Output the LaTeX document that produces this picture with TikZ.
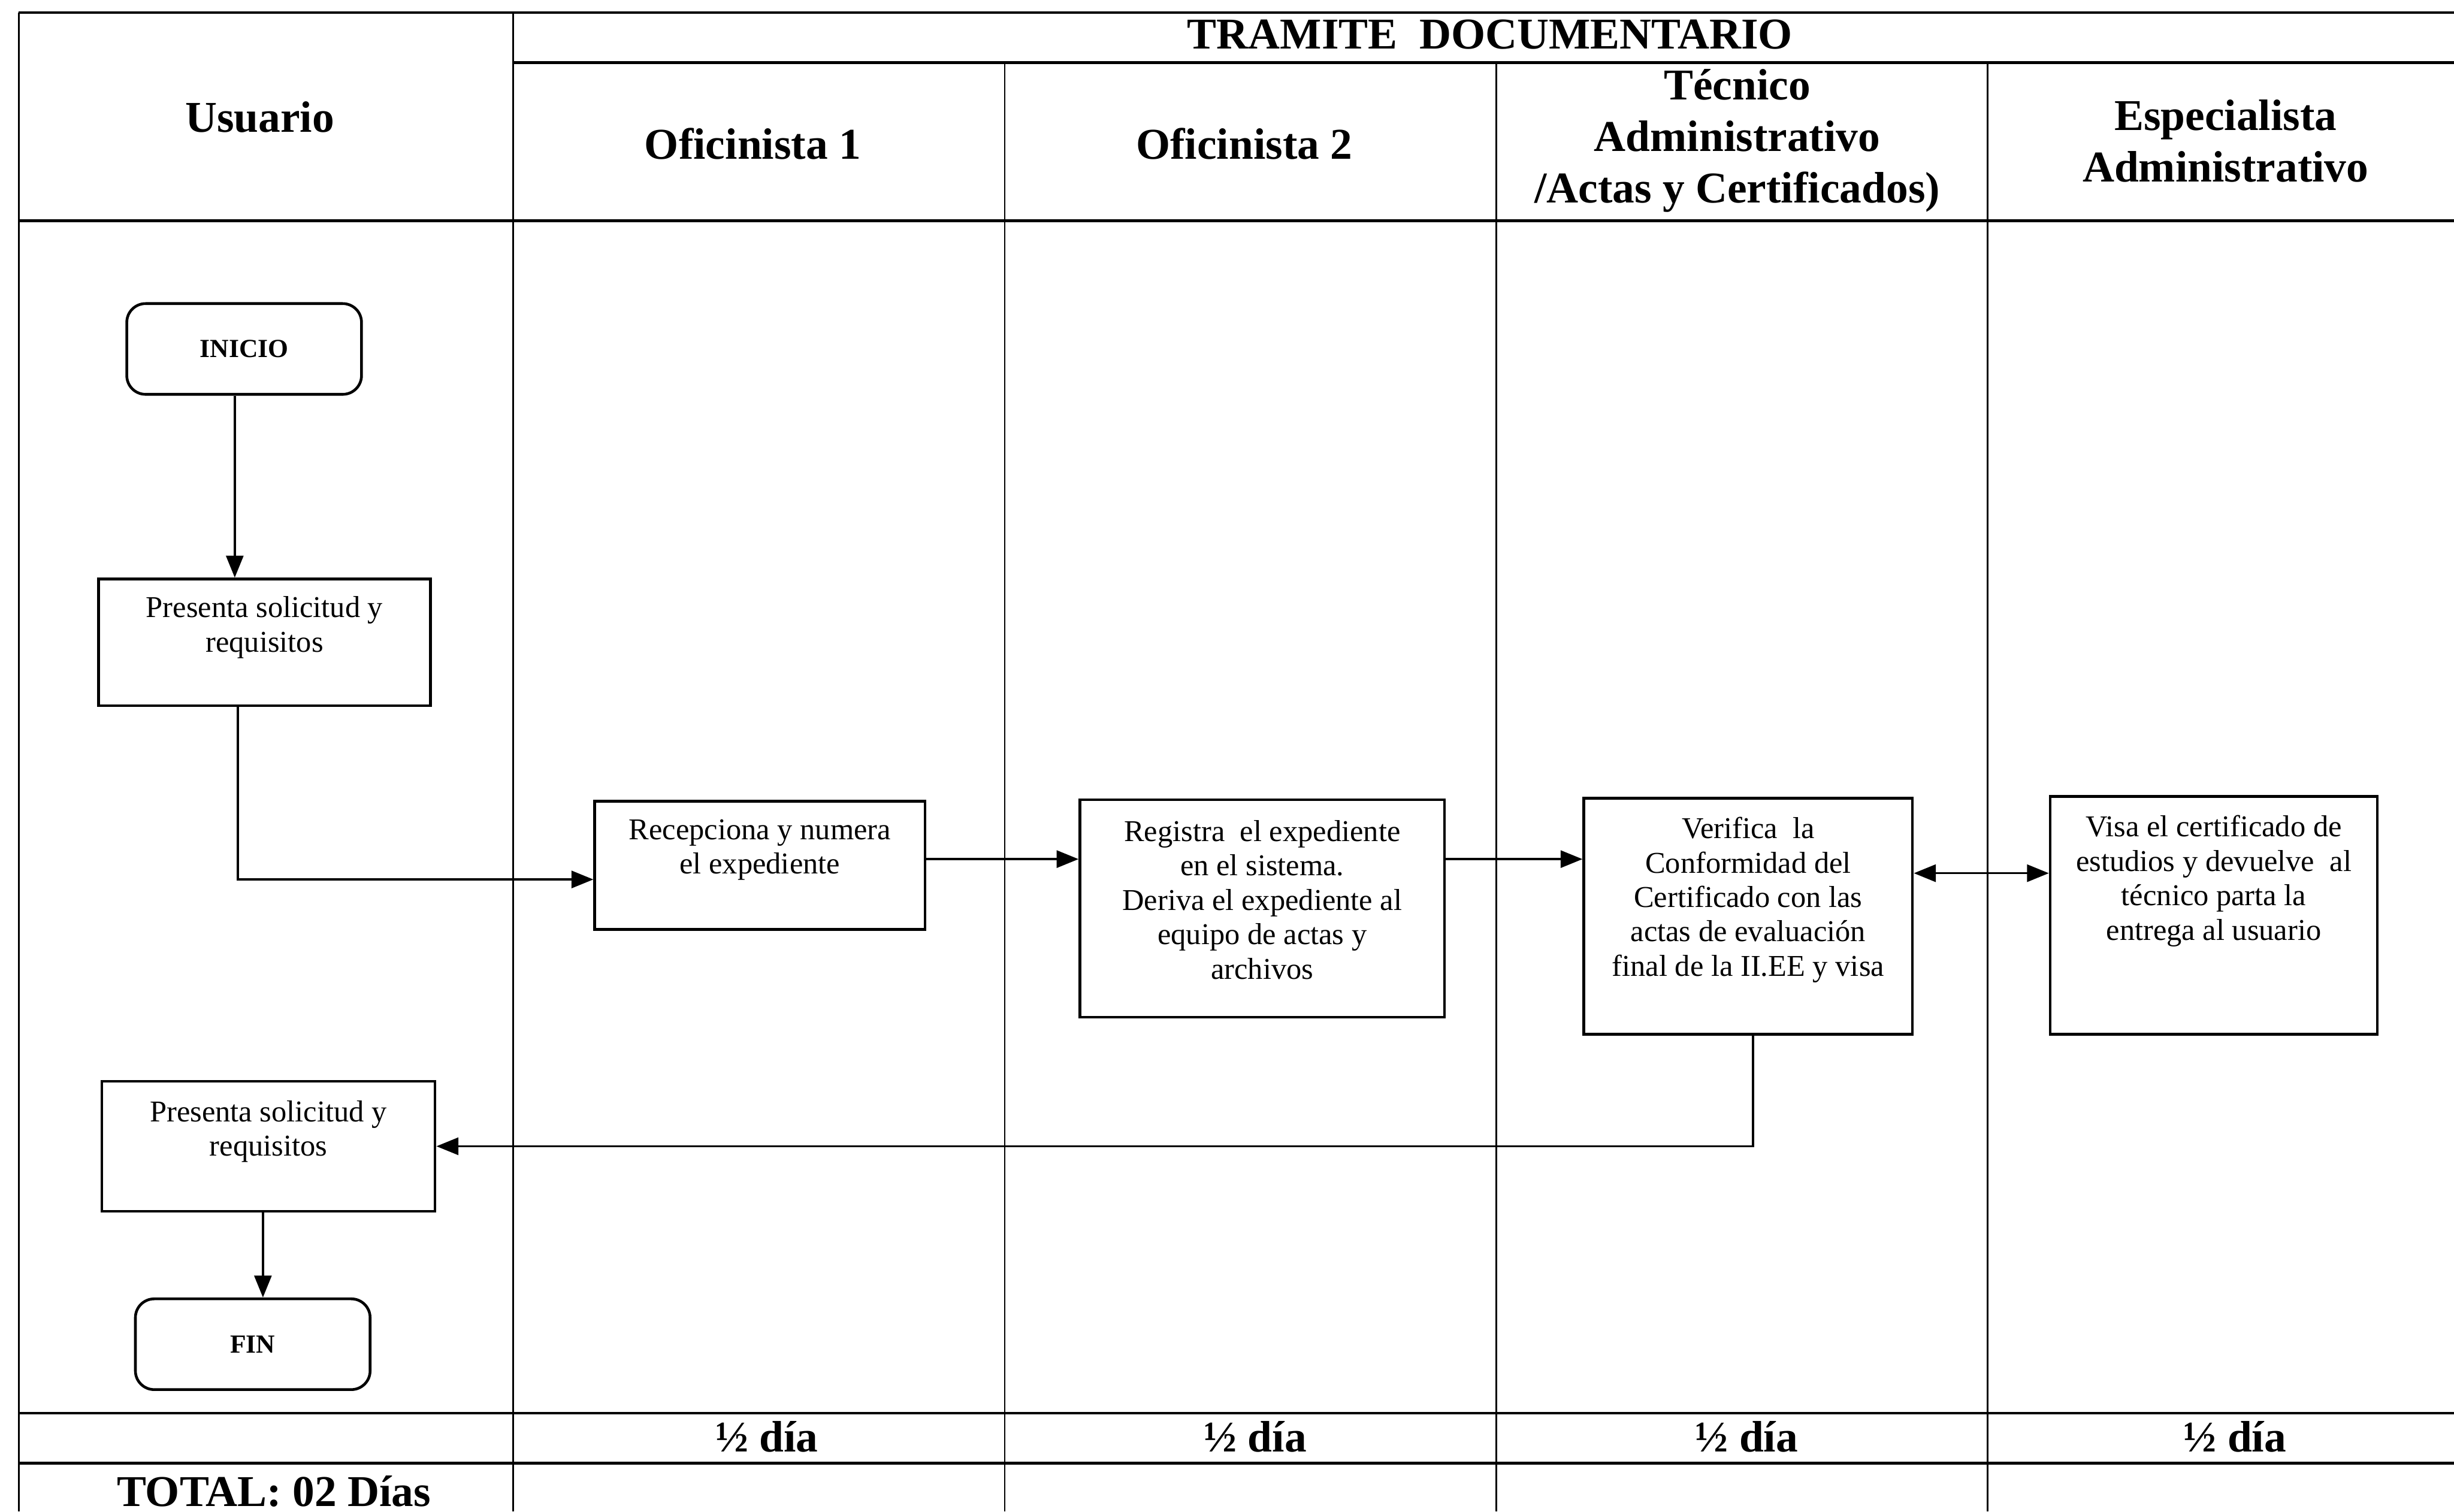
\documentclass[tikz,border=0pt]{standalone}
\usepackage{fontspec}
\setmainfont{Liberation Serif}
\usetikzlibrary{arrows.meta}

\newcommand{\cajatexto}[4]{\parbox[c][#2][c]{#1}{\centering #4\par\vspace*{#3}}}

\begin{document}
\begin{tikzpicture}[x=0.02cm,y=-0.02cm,
    paso/.style={draw,line width=1pt,inner sep=0pt,font=\fontsize{11}{12.5}\selectfont},
    limite/.style={draw,line width=1pt,rounded corners=0.24cm,minimum width=3cm,minimum height=1.16cm,font=\bfseries\fontsize{9.5}{11}\selectfont},
    cabecera/.style={align=center,font=\bfseries\fontsize{16}{18.8}\selectfont},
    flecha/.style={line width=0.8pt,-{Triangle[length=0.28cm,width=0.22cm]}},
    raya/.style={line width=1pt},
    division/.style={line width=0.6pt}]
  \useasboundingbox (0,0) rectangle (1568,966);
  % tabla
  \draw [raya] (12,8) -- (1568,8);
  \draw [raya] (328,40) -- (1568,40);
  \draw [raya] (12,141) -- (1568,141);
  \draw [raya] (12,903) -- (1568,903);
  \draw [raya] (12,935) -- (1568,935);
  \draw [division] (12,8) -- (12,966);
  \draw [division] (328,8) -- (328,966);
  \foreach \x in {642,956,1270}
    \draw [division] (\x,40) -- (\x,966);
  % cabeceras
  \node [cabecera] (tit) at (952,22) {TRAMITE\ \ DOCUMENTARIO};
  \node [cabecera] (usu) at (166,75) {Usuario};
  \node [cabecera] (of1) at (481,92) {Oficinista 1};
  \node [cabecera] (of2) at (795,92) {Oficinista 2};
  \node [cabecera] (tec) at (1110,90) {Técnico\\Administrativo\\/Actas y Certificados)};
  \node [cabecera] (esp) at (1422,90) {Especialista\\Administrativo};
  % pasos
  \node [limite] (ini) at (156,223) {INICIO};
  \node [paso] (pre1) at (169,410.5) {\cajatexto{4.24cm}{1.62cm}{0.38cm}{Presenta solicitud y\\requisitos}};
  \node [paso] (rec) at (485.5,553) {\cajatexto{4.22cm}{1.64cm}{0.4cm}{Recepciona y numera\\el expediente}};
  \node [paso] (reg) at (806.5,580.5) {\cajatexto{4.66cm}{2.78cm}{0.22cm}{Registra\ \ el expediente\\en el sistema.\\Deriva el expediente al\\equipo de actas y\\archivos}};
  \node [paso] (ver) at (1117,585.5) {\cajatexto{4.2cm}{3.02cm}{0.42cm}{Verifica\ \ la\\Conformidad del\\Certificado con las\\actas de evaluación\\final de la II.EE y visa}};
  \node [paso] (vis) at (1414.5,585) {\cajatexto{4.18cm}{3.04cm}{0.88cm}{Visa el certificado de\\estudios y devuelve\ \ al\\técnico parta la\\entrega al usuario}};
  \node [paso] (pre2) at (171.5,732.5) {\cajatexto{4.26cm}{1.66cm}{0.38cm}{Presenta solicitud y\\requisitos}};
  \node [limite] (fin) at (161.5,859) {FIN};
  % flechas
  \draw [flecha] ([xshift=-0.12cm]ini.south) -- ([xshift=-0.12cm]ini.south |- pre1.north);
  \draw [flecha] ([xshift=-0.34cm]pre1.south) |- ([yshift=-0.18cm]rec.west);
  \draw [flecha] ([yshift=0.08cm]rec.east) -- ([yshift=0.08cm]rec.east -| reg.west);
  \draw [flecha] ([yshift=0.63cm]reg.east) -- ([yshift=0.63cm]reg.east -| ver.west);
  \draw [flecha,{Triangle[length=0.28cm,width=0.22cm]}-{Triangle[length=0.28cm,width=0.22cm]}] ([yshift=0.55cm]ver.east) -- ([yshift=0.55cm]ver.east -| vis.west);
  \draw [flecha] ([xshift=0.06cm]ver.south) |- (pre2.east);
  \draw [flecha] ([xshift=-0.07cm]pre2.south) -- ([xshift=-0.07cm]pre2.south |- fin.north);
  % tiempos
  \foreach \x/\n in {490/1,802/2,1116/3,1428/4}
    \node [cabecera] (dia\n) at (\x,918) {½ día};
  \node [cabecera] (tot) at (175,953) {TOTAL: 02 Días};
\end{tikzpicture}
\end{document}
